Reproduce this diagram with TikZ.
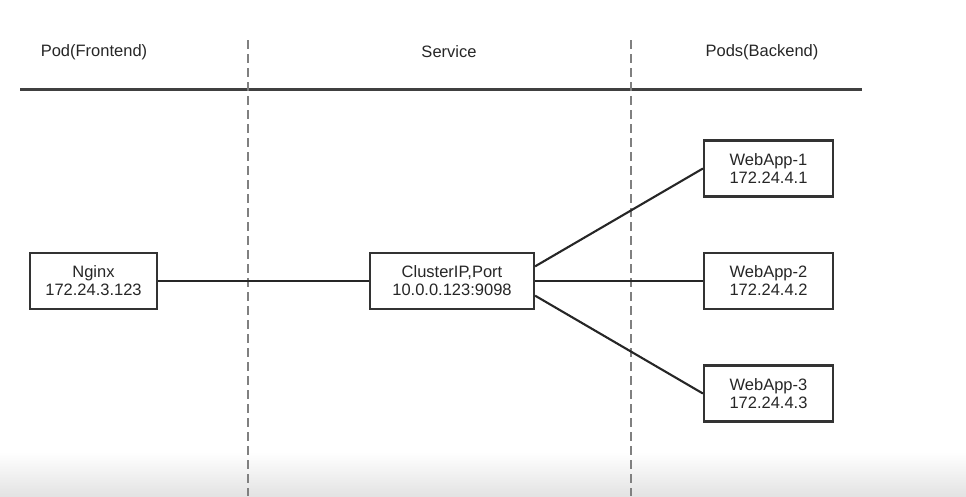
\documentclass[tikz,border=0pt]{standalone}
\usepackage{fontspec}
\setmainfont{Liberation Sans}
\begin{document}
\begin{tikzpicture}[x=1pt,y=-1pt,
    boite/.style={draw=black!80,line width=2.2pt,align=center,minimum height=56pt,
      font=\fontsize{16.5}{18}\selectfont,text=black!85},
    titre/.style={font=\fontsize{16.5}{18}\selectfont,text=black!85},
    lien/.style={draw=black!85,line width=2.1pt},
    sep/.style={draw=black!50,line width=1.4pt,dash pattern=on 9pt off 5pt}]
        \useasboundingbox (0,0) rectangle (966,496);
        \shade [top color=white,bottom color=black!11] (0,452) rectangle (966,496); %Bas gris
        \node [titre] (front) at (94,52) {Pod(Frontend)}; %Titres
        \node [titre] (serv) at (449,52) {Service};
        \node [titre] (back) at (762,52) {Pods(Backend)};
        \draw [black!75,line width=3pt] (20,89) -- (862,89); %Ligne haute
        \draw [sep] (248,40) -- (248,496); %Separations
        \draw [sep] (631,40) -- (631,496);
        \node [boite,minimum width=127pt] (nginx) at (93.5,281) {Nginx\\172.24.3.123}; %Boites
        \node [boite,minimum width=164pt] (cip) at (452,281) {ClusterIP,Port\\10.0.0.123:9098};
        \node [boite,minimum width=129pt] (web1) at (768.5,168.5) {WebApp-1\\172.24.4.1};
        \node [boite,minimum width=129pt] (web2) at (768.5,281) {WebApp-2\\172.24.4.2};
        \node [boite,minimum width=129pt] (web3) at (768.5,393.5) {WebApp-3\\172.24.4.3};
        \draw [lien] (nginx) -- (cip); %Liens
        \draw [lien] (cip.10) -- (web1.west);
        \draw [lien] (cip) -- (web2);
        \draw [lien] (cip.-10) -- (web3.west);
    \end{tikzpicture}
\end{document}
